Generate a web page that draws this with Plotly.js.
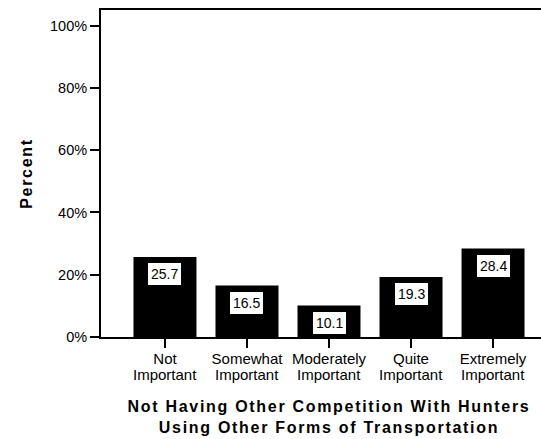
<!DOCTYPE html>
<html>
<head>
<meta charset="utf-8">
<script src="https://cdn.plot.ly/plotly-3.0.1.min.js"></script>
<style>
  html, body { margin: 0; padding: 0; overflow: hidden; background: #fff; }
  #chart { width: 600px; height: 439px; }
  .xtitle, .ytitle { letter-spacing: 1.7px; }
</style>
</head>
<body>
<div id="chart"></div>
<script>
const categories = ["Not Important", "Somewhat Important", "Moderately Important", "Quite Important", "Extremely Important"];
const labelLine1 = ["Not", "Somewhat", "Moderately", "Quite", "Extremely"];
const labelLine2 = ["Important", "Important", "Important", "Important", "Important"];
const percents = [25.7, 16.5, 10.1, 19.3, 28.4];
const yTickVals = [0, 20, 40, 60, 80, 100];
const yTickText = ["0%", "20%", "40%", "60%", "80%", "100%"];

const FONT = "Liberation Sans, Arial, sans-serif";

const valueAnnotations = categories.map((c, i) => ({
  x: c, y: percents[i], xref: "x", yref: "y",
  text: percents[i].toFixed(1), showarrow: false,
  yanchor: "top", yshift: -5,
  bgcolor: "#ffffff", bordercolor: "#000000", borderwidth: 1, borderpad: 3,
  font: { family: FONT, size: 14, color: "#000" }
}));

const line2Annotations = categories.map((c, i) => ({
  x: c, y: 0, xref: "x", yref: "paper",
  text: labelLine2[i], showarrow: false,
  yanchor: "top", yshift: -27,
  font: { family: FONT, size: 15, color: "#000" }
}));

const trace = {
  type: "bar",
  x: categories,
  y: percents,
  marker: { color: "#000000", line: { width: 0 } },
  hoverinfo: "none"
};

const layout = {
  width: 600, height: 439,
  margin: { l: 101, r: 43, t: 10, b: 102 },
  paper_bgcolor: "#ffffff", plot_bgcolor: "#ffffff",
  showlegend: false,
  bargap: 0.232,
  font: { family: FONT, color: "#000" },
  xaxis: {
    type: "category",
    range: [-0.78, 4.78],
    tickmode: "array", tickvals: categories, ticktext: labelLine1,
    ticks: "outside", ticklen: 9, tickwidth: 2, tickcolor: "#000",
    ticklabelstandoff: -2,
    showline: true, linewidth: 2, linecolor: "#000", mirror: true,
    showgrid: false, zeroline: false,
    tickfont: { family: FONT, size: 15, color: "#000" },
    title: {
      text: "Not Having Other Competition With Hunters<br>Using Other Forms of Transportation",
      font: { family: FONT, size: 16, color: "#000", weight: "bold" },
      standoff: 35
    },
    automargin: false
  },
  yaxis: {
    range: [0, 105],
    tickmode: "array", tickvals: yTickVals, ticktext: yTickText,
    ticks: "outside", ticklen: 9, tickwidth: 2, tickcolor: "#000",
    showline: true, linewidth: 2, linecolor: "#000",
    showgrid: false, zeroline: false,
    tickfont: { family: FONT, size: 14.5, color: "#000" },
    title: {
      text: "Percent",
      font: { family: FONT, size: 16, color: "#000", weight: "bold" },
      standoff: 13
    },
    automargin: false
  },
  annotations: valueAnnotations.concat(line2Annotations)
};

Plotly.newPlot("chart", [trace], layout, { displayModeBar: false, staticPlot: true });
</script>
</body>
</html>
